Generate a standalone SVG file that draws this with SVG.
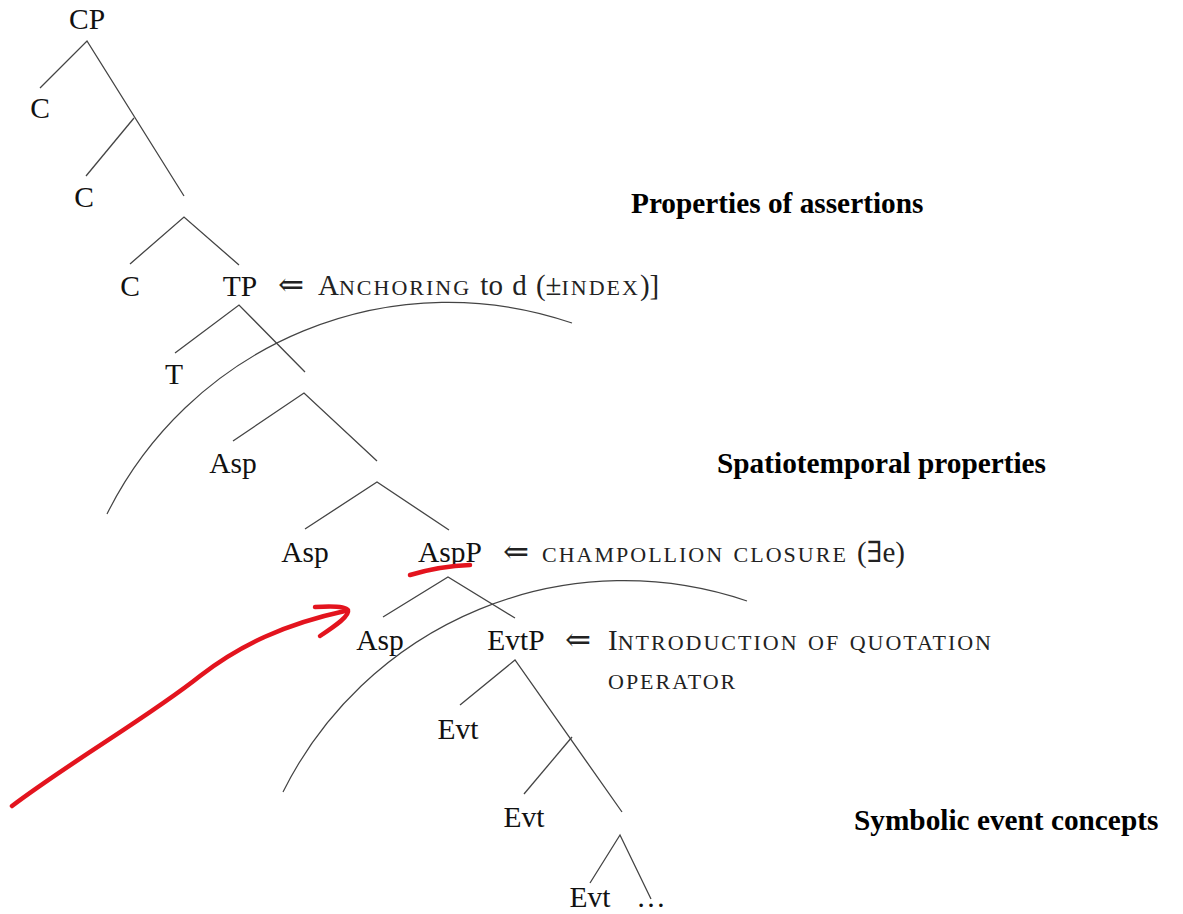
<svg xmlns="http://www.w3.org/2000/svg" width="1183" height="914" viewBox="0 0 1183 914">
<style>
.lbl{font-family:"Liberation Serif","Times New Roman",serif;font-size:29.5px;fill:#111;text-anchor:middle}
.ann{font-family:"Liberation Serif","DejaVu Serif",serif;font-size:29px;fill:#222;word-spacing:2px}
.sc{font-size:22px;letter-spacing:2px}
.arr{font-family:"DejaVu Serif",serif;font-size:31px}
.hd{font-family:"Liberation Serif","Times New Roman",serif;font-size:29.3px;font-weight:bold;fill:#000}
.edge{stroke:#444;stroke-width:1.3;fill:none}
.arc{stroke:#444;stroke-width:1.2;fill:none}
.red{stroke:#e3141e;stroke-width:4.5;fill:none;stroke-linecap:round;stroke-linejoin:round}
</style>
<rect width="1183" height="914" fill="#fff"/>
<g id="connectors">
<path class="edge" d="M40,88 L87,41 L184,196"/>
<path class="edge" d="M86,176 L134,118"/>
<path class="edge" d="M130,264 L184,217 L239,265"/>
<path class="edge" d="M175,353 L239,305 L305,372"/>
<path class="edge" d="M233,441 L304,393 L377,461"/>
<path class="edge" d="M305,529 L377,482 L449,530"/>
<path class="edge" d="M383,617 L448,577 L515,618"/>
<path class="edge" d="M460,705 L515,660 L622,812"/>
<path class="edge" d="M524,794 L572,737"/>
<path class="edge" d="M590,883 L620,835 L651,899"/>
</g>
<g id="arcs">
<path class="arc" d="M107,514 A381,381 0 0 1 572,323"/>
<path class="arc" d="M283,792 A381,381 0 0 1 747,601"/>
</g>
<g id="node-CP"><text class="lbl" x="87" y="29">CP</text></g>
<g id="node-C1"><text class="lbl" x="40" y="118">C</text></g>
<g id="node-C2"><text class="lbl" x="84" y="207">C</text></g>
<g id="node-C3"><text class="lbl" x="130" y="296">C</text></g>
<g id="node-TP"><text class="lbl" x="240" y="296">TP</text></g>
<g id="node-T"><text class="lbl" x="174" y="384">T</text></g>
<g id="node-Asp1"><text class="lbl" x="233" y="473">Asp</text></g>
<g id="node-Asp2"><text class="lbl" x="305" y="562">Asp</text></g>
<g id="node-AspP"><text class="lbl" x="450" y="562">AspP</text></g>
<g id="node-Asp3"><text class="lbl" x="380" y="650">Asp</text></g>
<g id="node-EvtP"><text class="lbl" x="516" y="650">EvtP</text></g>
<g id="node-Evt1"><text class="lbl" x="458" y="739">Evt</text></g>
<g id="node-Evt2"><text class="lbl" x="524" y="827">Evt</text></g>
<g id="node-Evt3"><text class="lbl" x="590" y="907">Evt</text></g>
<g id="node-dots"><text class="lbl" x="651" y="907">…</text></g>
<g id="ann-TP"><text class="ann" x="278" y="295"><tspan class="arr">⇐</tspan><tspan x="318">A</tspan><tspan class="sc">NCHORING</tspan> to d (±<tspan class="sc">INDEX</tspan>)]</text></g>
<g id="ann-AspP"><text class="ann" x="503" y="562"><tspan class="arr">⇐</tspan><tspan x="542" class="sc">CHAMPOLLION CLOSURE</tspan> (∃e)</text></g>
<g id="ann-EvtP"><text class="ann" x="565" y="650"><tspan class="arr">⇐</tspan><tspan x="608">I</tspan><tspan class="sc">NTRODUCTION OF QUOTATION</tspan></text><text class="ann sc" x="608" y="689">OPERATOR</text></g>
<g id="heading-1"><text class="hd" x="631" y="213">Properties of assertions</text></g>
<g id="heading-2"><text class="hd" x="717" y="473">Spatiotemporal properties</text></g>
<g id="heading-3"><text class="hd" x="854" y="830">Symbolic event concepts</text></g>
<g id="annotation-red">
<path class="red" d="M410,575 Q440,566 470,565"/>
<path class="red" d="M12,806 C70,762 150,716 200,676 C240,645 285,624 345,611"/>
<path class="red" d="M315,607 C330,606 345,606 348,610 C350,616 335,626 320,636"/>
</g>
</svg>
